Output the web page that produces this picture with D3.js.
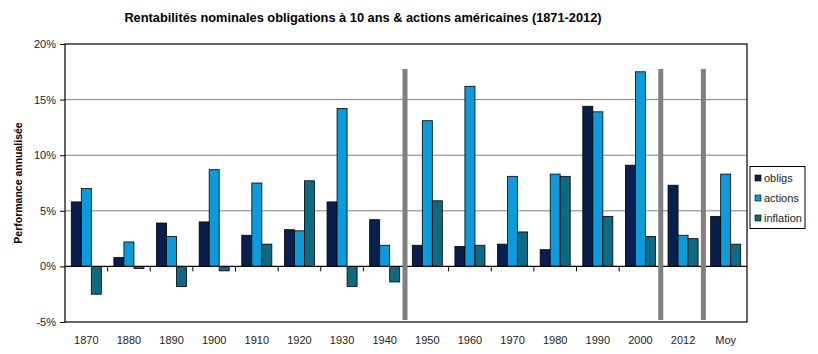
<!DOCTYPE html>
<html><head><meta charset="utf-8">
<script src="https://cdn.jsdelivr.net/npm/d3@7"></script>
<style>body{margin:0;background:#fff;} svg{display:block;font-family:"Liberation Sans",Arial,sans-serif;}</style>
</head><body>
<svg id="c" width="818" height="354"></svg>
<script>
const categories = ["1870","1880","1890","1900","1910","1920","1930","1940","1950","1960","1970","1980","1990","2000","2012","Moy"];
const obligs    = [5.8, 0.8, 3.9, 4.0, 2.8, 3.3, 5.8, 4.2, 1.9, 1.8, 2.0, 1.5, 14.4, 9.1, 7.3, 4.5];
const actions   = [7.0, 2.2, 2.7, 8.7, 7.5, 3.2, 14.2, 1.9, 13.1, 16.2, 8.1, 8.3, 13.9, 17.5, 2.8, 8.3];
const inflation = [-2.5, -0.2, -1.8, -0.4, 2.0, 7.7, -1.8, -1.4, 5.9, 1.9, 3.1, 8.1, 4.5, 2.7, 2.5, 2.0];
const seriesNames = ["obligs","actions","inflation"];
const yTicks = [-5, 0, 5, 10, 15, 20];
const separatorsAfter = ["1940","2000","2012"];
const title = "Rentabilités nominales obligations à 10 ans & actions américaines (1871-2012)";
const yTitle = "Performance annualisée";

const colors = {obligs:"#08204e", actions:"#0b9bdc", inflation:"#0c6b82"};
const seriesData = {obligs, actions, inflation};

const svg = d3.select("#c");
const L = 65, R = 747, T = 44, B = 322;

const x = d3.scaleBand().domain(categories).range([L, R]).paddingInner(0.295).paddingOuter(0.1475);
const x1 = d3.scaleBand().domain(seriesNames).range([0, x.bandwidth()]);
const y = d3.scaleLinear().domain([-5, 20]).range([B, T]);
const step = (R - L) / categories.length;

// title
svg.append("text").attr("x", 363).attr("y", 22).attr("text-anchor","middle")
  .attr("font-size", 12.8).attr("font-weight","bold").attr("fill","#000").text(title);

// y title
svg.append("text").attr("transform", `translate(22,${(T+B)/2}) rotate(-90)`)
  .attr("text-anchor","middle").attr("font-size", 10.5).attr("font-weight","bold").text(yTitle);

// gridlines
svg.append("g").selectAll("line").data(yTicks.filter(d => d !== 0 && d !== -5 && d !== 20)).join("line")
  .attr("x1", L).attr("x2", R).attr("y1", d => y(d)).attr("y2", d => y(d))
  .attr("stroke", "#808080").attr("stroke-width", 1);

// left axis
const yAxis = d3.axisLeft(y).tickValues(yTicks).tickFormat(d => d + "%").tickSize(5).tickPadding(4);
const ga = svg.append("g").attr("transform", `translate(${L},0)`).call(yAxis);
ga.select(".domain").remove();
ga.selectAll("line").attr("stroke","#000");
ga.selectAll("text").attr("font-size", 11).attr("font-family","Liberation Sans, Arial, sans-serif").attr("fill","#222");

// bars
const groups = svg.append("g").selectAll("g").data(categories).join("g")
  .attr("transform", d => `translate(${x(d)},0)`);
groups.selectAll("rect").data((c, i) => seriesNames.map(s => ({s, v: seriesData[s][i]}))).join("rect")
  .attr("x", d => x1(d.s)).attr("width", x1.bandwidth())
  .attr("y", d => y(Math.max(0, d.v))).attr("height", d => Math.abs(y(d.v) - y(0)))
  .attr("fill", d => colors[d.s]).attr("stroke", "#000").attr("stroke-width", 0.8);

// plot border
svg.append("rect").attr("x", L).attr("y", T).attr("width", R - L).attr("height", B - T)
  .attr("fill","none").attr("stroke","#000").attr("stroke-width",1.2);

// zero axis with category ticks
svg.append("line").attr("x1", L).attr("x2", R).attr("y1", y(0)).attr("y2", y(0)).attr("stroke","#000").attr("stroke-width",1.2);
svg.append("g").selectAll("line").data(d3.range(1, categories.length)).join("line")
  .attr("x1", i => L + i*step).attr("x2", i => L + i*step)
  .attr("y1", y(0)).attr("y2", y(0) + 5).attr("stroke","#000");

// x labels
svg.append("g").selectAll("text").data(categories).join("text")
  .attr("x", d => x(d) + x.bandwidth()/2).attr("y", 344).attr("text-anchor","middle")
  .attr("font-size", 11).attr("fill","#222").text(d => d);

// separators
svg.append("g").selectAll("rect").data(separatorsAfter).join("rect")
  .attr("x", d => x(d) + x.bandwidth() + x.step()*x.paddingInner()/2 - 3.5)
  .attr("y", 69).attr("width", 5).attr("height", 251).attr("fill", "#808080");

// legend
const lg = svg.append("g");
lg.append("rect").attr("x", 750).attr("y", 166.5).attr("width", 55).attr("height", 62)
  .attr("fill","#fff").attr("stroke","#000").attr("stroke-width",1);
seriesNames.forEach((s, i) => {
  const cy = 178 + i*20;
  lg.append("rect").attr("x", 755).attr("y", cy - 3).attr("width", 6).attr("height", 6)
    .attr("fill", colors[s]).attr("stroke","#000").attr("stroke-width",0.6);
  lg.append("text").attr("x", 764).attr("y", cy + 4).attr("font-size", 11).attr("fill","#222").text(s);
});
</script>
</body></html>
